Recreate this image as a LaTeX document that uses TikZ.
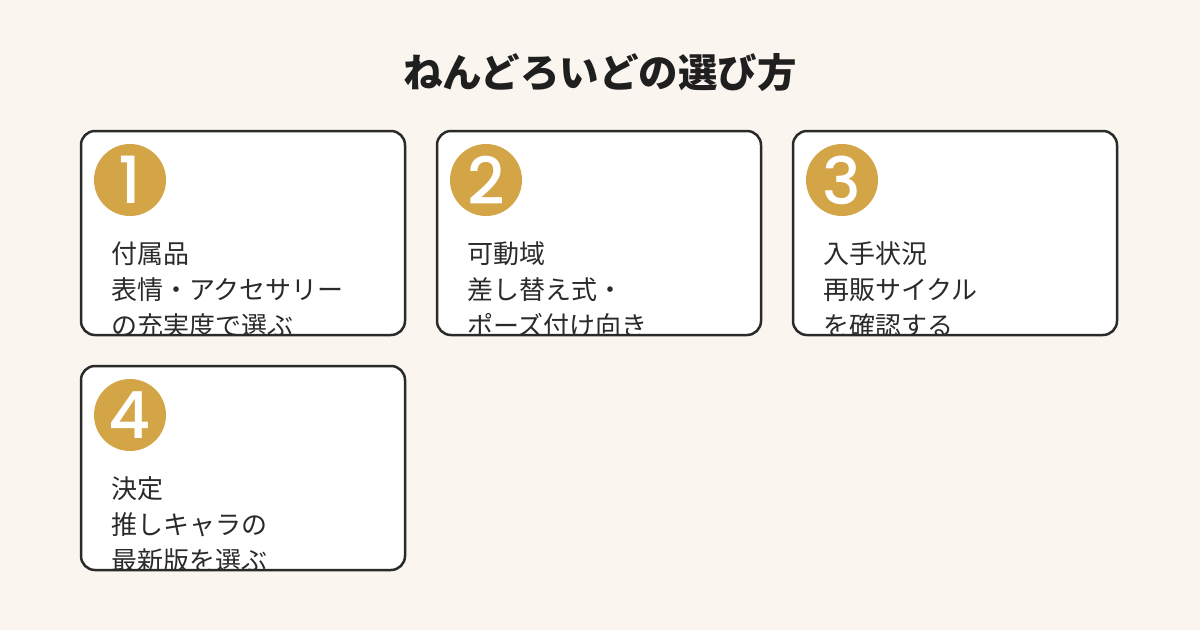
\documentclass[tikz,border=0pt]{standalone}
\usepackage{fontspec}
\setmainfont{Noto Sans CJK JP}
\newfontfamily\digitfont{Poppins Medium}
\usetikzlibrary{positioning}
\definecolor{cream}{HTML}{FAF6EF}
\definecolor{gold}{HTML}{D4A547}
\definecolor{ink}{HTML}{2A2A2A}
\tikzset{
  card/.style={fill=white, rounded corners=14pt, minimum width=324pt, minimum height=204pt, inner sep=0pt, outer sep=0pt},
  cardedge/.style={draw=ink, line width=2.5pt, rounded corners=14pt},
  badge/.style={circle, fill=gold, text=white, minimum size=72pt, inner sep=0pt, font=\digitfont\fontsize{65}{65}\selectfont},
  cardtext/.style={anchor=base west, inner sep=0pt, text=ink, font=\fontsize{26}{30}\selectfont},
}
\begin{document}
\begin{tikzpicture}[x=1pt,y=-1pt]
	\fill[cream] (0,0) rectangle (1200,630);
	\useasboundingbox (0,0) rectangle (1200,630);
	\node[anchor=base, inner sep=0pt, text=black!88, font=\bfseries\fontsize{39.5}{40}\selectfont] (title) at (600,87) {ねんどろいどの選び方};
	% cards: number / top-left corner / three lines
	\foreach \n/\x/\y/\la/\lb/\lc in {1/81/131/付属品/表情・アクセサリー/の充実度で選ぶ,
		2/437/131/可動域/差し替え式・/ポーズ付け向き,
		3/793/131/入手状況/再販サイクル/を確認する,
		4/81/366/決定/推しキャラの/最新版を選ぶ}{
		\node[card] (card\n) at (\x+162,\y+102) {};
		\begin{scope}
			\clip[rounded corners=14pt] (card\n.north west) rectangle (card\n.south east);
			\node[cardtext] (txt\n a) at (\x+30,\y+132) {\la};
			\node[cardtext] (txt\n b) at (\x+30,\y+168) {\lb};
			\node[cardtext] (txt\n c) at (\x+30,\y+204) {\lc};
		\end{scope}
		\draw[cardedge] (card\n.north west) rectangle (card\n.south east);
		\node[badge] (num\n) at (\x+49,\y+49) {\n};
	}
\end{tikzpicture}
\end{document}
